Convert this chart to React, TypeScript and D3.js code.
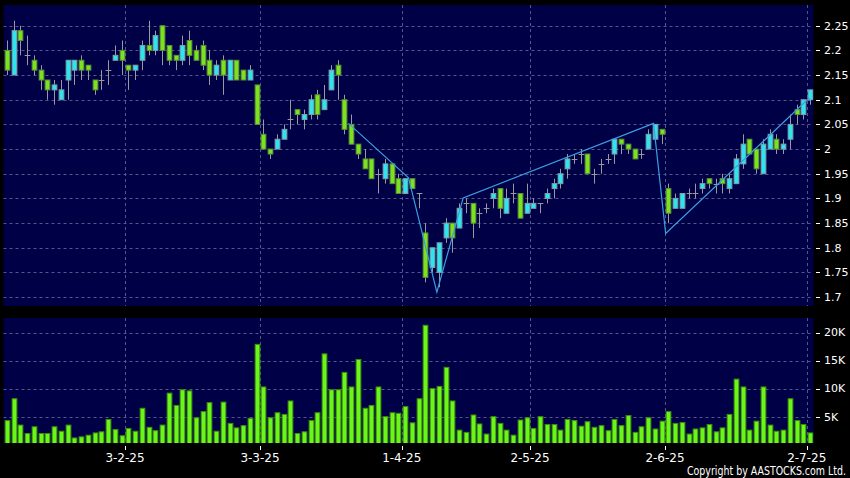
import React from 'react';
import * as d3 from 'd3';

// ---- data ----
const opens = [
  2.20, 2.15, 2.24, 2.19, 2.18, 2.16, 2.14, 2.12, 2.10, 2.14,
  2.16, 2.18, 2.17, 2.14, 2.14, 2.16, 2.18, 2.20, 2.17, 2.16,
  2.18, 2.21, 2.20, 2.25, 2.21, 2.19, 2.18, 2.22, 2.20, 2.21,
  2.18, 2.15, 2.18, 2.14, 2.18, 2.16, 2.14, 2.13, 2.03, 2.00,
  2.00, 2.02, 2.06, 2.08, 2.06, 2.07, 2.11, 2.08, 2.12, 2.17,
  2.10, 2.05, 2.01, 1.98, 1.98, 1.95, 1.94, 1.97, 1.94, 1.91,
  1.94, 1.91, 1.83, 1.76, 1.75, 1.82, 1.85, 1.84, 1.89, 1.89,
  1.87, 1.88, 1.90, 1.92, 1.87, 1.91, 1.91, 1.87, 1.88, 1.89,
  1.90, 1.92, 1.93, 1.96, 1.98, 1.99, 1.99, 1.95, 1.97, 1.98,
  1.99, 2.02, 2.01, 2.00, 1.99, 2.00, 2.02, 2.04, 1.92, 1.88,
  1.88, 1.91, 1.91, 1.92, 1.94, 1.93, 1.94, 1.92, 1.93, 1.97,
  2.02, 2.00, 1.95, 2.00, 2.02, 2.00, 2.02, 2.08, 2.07, 2.10,
];
const highs = [
  2.22, 2.26, 2.25, 2.23, 2.19, 2.17, 2.14, 2.14, 2.14, 2.18,
  2.18, 2.19, 2.17, 2.14, 2.16, 2.18, 2.21, 2.22, 2.17, 2.17,
  2.22, 2.26, 2.24, 2.25, 2.21, 2.19, 2.23, 2.24, 2.21, 2.22,
  2.20, 2.18, 2.19, 2.18, 2.18, 2.16, 2.17, 2.13, 2.06, 2.00,
  2.03, 2.05, 2.10, 2.08, 2.08, 2.11, 2.12, 2.13, 2.17, 2.18,
  2.11, 2.07, 2.01, 2.00, 1.98, 1.96, 1.98, 1.97, 1.95, 1.94,
  1.94, 1.91, 1.85, 1.80, 1.81, 1.86, 1.85, 1.89, 1.90, 1.89,
  1.88, 1.89, 1.92, 1.92, 1.92, 1.93, 1.91, 1.93, 1.90, 1.89,
  1.92, 1.94, 1.96, 1.99, 1.99, 2.00, 1.99, 1.96, 1.98, 1.99,
  2.02, 2.02, 2.01, 2.00, 2.00, 2.04, 2.05, 2.04, 1.93, 1.91,
  1.91, 1.92, 1.93, 1.94, 1.94, 1.94, 1.95, 1.95, 1.99, 2.03,
  2.02, 2.00, 2.02, 2.04, 2.03, 2.02, 2.07, 2.09, 2.10, 2.12,
];
const lows = [
  2.15, 2.15, 2.19, 2.17, 2.15, 2.12, 2.10, 2.09, 2.10, 2.10,
  2.13, 2.14, 2.14, 2.11, 2.12, 2.13, 2.18, 2.15, 2.12, 2.14,
  2.16, 2.19, 2.19, 2.17, 2.17, 2.16, 2.17, 2.17, 2.18, 2.16,
  2.13, 2.14, 2.11, 2.14, 2.14, 2.14, 2.14, 2.05, 2.00, 1.98,
  2.00, 2.02, 2.04, 2.05, 2.04, 2.06, 2.06, 2.08, 2.12, 2.10,
  2.03, 2.01, 1.98, 1.96, 1.94, 1.91, 1.93, 1.93, 1.91, 1.91,
  1.92, 1.88, 1.73, 1.75, 1.72, 1.81, 1.79, 1.84, 1.87, 1.82,
  1.84, 1.87, 1.88, 1.86, 1.87, 1.89, 1.86, 1.87, 1.88, 1.87,
  1.89, 1.90, 1.92, 1.94, 1.97, 1.97, 1.95, 1.93, 1.95, 1.97,
  1.97, 1.99, 1.99, 1.98, 1.98, 2.00, 2.02, 2.01, 1.85, 1.88,
  1.88, 1.90, 1.90, 1.91, 1.92, 1.91, 1.91, 1.91, 1.93, 1.96,
  1.99, 1.95, 1.95, 2.00, 1.99, 1.99, 2.00, 2.05, 2.06, 2.09,
];
const closes = [
  2.16, 2.24, 2.22, 2.19, 2.16, 2.14, 2.12, 2.13, 2.12, 2.18,
  2.18, 2.16, 2.16, 2.12, 2.14, 2.16, 2.19, 2.18, 2.16, 2.17,
  2.21, 2.20, 2.23, 2.20, 2.18, 2.18, 2.21, 2.19, 2.18, 2.17,
  2.15, 2.17, 2.15, 2.18, 2.14, 2.14, 2.16, 2.05, 2.00, 1.99,
  2.02, 2.04, 2.06, 2.07, 2.07, 2.10, 2.07, 2.10, 2.16, 2.15,
  2.04, 2.01, 1.99, 1.96, 1.94, 1.95, 1.97, 1.93, 1.91, 1.94,
  1.92, 1.91, 1.74, 1.80, 1.81, 1.85, 1.82, 1.88, 1.89, 1.85,
  1.87, 1.88, 1.91, 1.88, 1.90, 1.91, 1.86, 1.89, 1.89, 1.89,
  1.91, 1.93, 1.95, 1.98, 1.98, 1.99, 1.95, 1.95, 1.97, 1.98,
  2.02, 2.01, 2.00, 1.98, 1.99, 2.03, 2.05, 2.03, 1.87, 1.90,
  1.91, 1.91, 1.91, 1.93, 1.93, 1.93, 1.93, 1.94, 1.98, 2.01,
  1.99, 1.96, 2.01, 2.03, 2.00, 2.01, 2.05, 2.07, 2.10, 2.12,
];
const volumes = [
  4300, 8200, 3500, 2000, 3200, 2000, 2000, 3200, 2400, 3500,
  1200, 1400, 1700, 2100, 2300, 4500, 2700, 1600, 2900, 2400,
  6500, 3100, 2500, 3500, 9200, 7000, 9800, 9600, 4800, 5900,
  7500, 2400, 7600, 3800, 3000, 3400, 4700, 17900, 10300, 4800,
  5700, 5400, 7800, 2000, 2300, 4300, 5700, 16200, 9800, 9800,
  12900, 10300, 15200, 6500, 7000, 10300, 5000, 5700, 5600, 6800,
  3900, 8200, 21300, 10000, 10400, 13800, 7800, 2600, 2200, 5300,
  3700, 1900, 5000, 3800, 2600, 1700, 4400, 4800, 2900, 5000,
  3600, 3600, 2600, 4500, 4300, 3300, 4100, 3100, 3400, 2500,
  4500, 3400, 5200, 2200, 3200, 4800, 2800, 4200, 5900, 3800,
  3950, 1900, 2800, 3000, 3600, 2300, 3000, 5400, 11700, 10300,
  2600, 4200, 10300, 3500, 2400, 2600, 8200, 4300, 3600, 2100,
];
const priceTicks = [1.7, 1.75, 1.8, 1.85, 1.9, 1.95, 2.0, 2.05, 2.1, 2.15, 2.2, 2.25];
const volumeTicks = [5000, 10000, 15000, 20000];
const dateLabels = ['3-2-25', '3-3-25', '1-4-25', '2-5-25', '2-6-25', '2-7-25'];
const dateIndex = [18, 38, 59, 78, 98, 119];
const zigzagIdx = [50.6, 59.5, 63.7, 67.6, 95.8, 97.6, 118.9];
const zigzagPrice = [2.052, 1.942, 1.71, 1.901, 2.052, 1.829, 2.104];

// ---- layout ----
const W = 850;
const H = 478;
const PL = 3.5;
const PR = 813.5;
const PT = 5;
const PB = 306;
const VT = 318;
const VB = 443;

const BG = '#000000';
const PANEL = '#000046';
const GRID = '#55558c';
const UP = '#2ce5f0';
const UP_STROKE = '#7f9ea8';
const DOWN = '#7de21e';
const DOWN_STROKE = '#5a8f3a';
const WICK = '#9a9a9a';
const VOL = '#6cf51a';
const VOL_STROKE = '#3c8f0a';
const ZIG = '#3a9ee0';
const FONT = '"DejaVu Sans", Verdana, sans-serif';

export default function App() {
  const n = opens.length;
  const x = d3.scaleLinear().domain([-0.5, n - 0.5]).range([PL, PR]);
  const y = d3.scaleLinear().domain([1.682, 2.292]).range([PB, PT]);
  const yv = d3.scaleLinear().domain([0, 22600]).range([444.7, VT]);
  const step = x(1) - x(0);
  const bw = step - 2;

  const zig = d3
    .line<number>()
    .x((_, i) => x(zigzagIdx[i]))
    .y((p) => y(p))(zigzagPrice);

  const fmt = (v: number) => String(+v.toFixed(2));

  return (
    <svg
      width={W}
      height={H}
      style={{ position: 'absolute', left: 0, top: 0, display: 'block' }}
      fontFamily={FONT}
    >
      <defs>
        <clipPath id="pclip">
          <rect x={PL} y={PT} width={PR - PL} height={PB - PT} />
        </clipPath>
        <clipPath id="vclip">
          <rect x={PL} y={VT} width={PR - PL} height={VB - VT} />
        </clipPath>
      </defs>
      <rect x={0} y={0} width={W} height={H} fill={BG} />

      {/* price panel */}
      <rect x={PL} y={PT} width={PR - PL} height={PB - PT} fill={PANEL} />
      {priceTicks.map((p) => (
        <line
          key={'pg' + p}
          x1={PL}
          x2={PR}
          y1={Math.round(y(p)) + 0.5}
          y2={Math.round(y(p)) + 0.5}
          stroke={GRID}
          strokeDasharray="3,3"
        />
      ))}
      {dateIndex.map((d) => (
        <line
          key={'pvg' + d}
          x1={Math.round(x(d - 0.5)) + 0.5}
          x2={Math.round(x(d - 0.5)) + 0.5}
          y1={PT}
          y2={PB}
          stroke={GRID}
          strokeDasharray="3,3"
        />
      ))}
      <g clipPath="url(#pclip)">
        {opens.map((o, i) => {
          const c = closes[i];
          const cx = Math.round(x(i)) + 0.5;
          const doji = Math.abs(o - c) < 1e-9;
          const up = c > o;
          const top = y(Math.max(o, c));
          const bot = y(Math.min(o, c));
          return (
            <g key={'c' + i}>
              <line x1={cx} x2={cx} y1={y(highs[i])} y2={y(lows[i])} stroke={WICK} strokeWidth={1} />
              {doji ? (
                <line
                  x1={cx - bw / 2 - 0.5}
                  x2={cx + bw / 2 + 0.5}
                  y1={Math.round(y(o)) + 0.5}
                  y2={Math.round(y(o)) + 0.5}
                  stroke={WICK}
                  strokeWidth={1}
                />
              ) : (
                <rect
                  x={cx - bw / 2}
                  y={top}
                  width={bw}
                  height={Math.max(1, bot - top)}
                  fill={up ? UP : DOWN}
                  stroke={up ? UP_STROKE : DOWN_STROKE}
                  strokeWidth={1}
                />
              )}
            </g>
          );
        })}
        <path d={zig || ''} fill="none" stroke={ZIG} strokeWidth={1.2} />
      </g>
      {priceTicks.map((p) => (
        <g key={'pl' + p}>
          <line x1={816} x2={820} y1={Math.round(y(p)) + 0.5} y2={Math.round(y(p)) + 0.5} stroke="#ffffff" />
          <text x={824} y={y(p)} dy="0.35em" fill="#ffffff" fontSize={11}>
            {fmt(p)}
          </text>
        </g>
      ))}

      {/* volume panel */}
      <rect x={PL} y={VT} width={PR - PL} height={VB - VT} fill={PANEL} />
      {volumeTicks.map((v) => (
        <line
          key={'vg' + v}
          x1={PL}
          x2={PR}
          y1={Math.round(yv(v)) + 0.5}
          y2={Math.round(yv(v)) + 0.5}
          stroke={GRID}
          strokeDasharray="3,3"
        />
      ))}
      {dateIndex.map((d) => (
        <line
          key={'vvg' + d}
          x1={Math.round(x(d - 0.5)) + 0.5}
          x2={Math.round(x(d - 0.5)) + 0.5}
          y1={VT}
          y2={VB}
          stroke={GRID}
          strokeDasharray="3,3"
        />
      ))}
      <g clipPath="url(#vclip)">
        {volumes.map((v, i) => {
          const cx = Math.round(x(i)) + 0.5;
          return (
            <rect
              key={'v' + i}
              x={cx - bw / 2}
              y={yv(v)}
              width={bw}
              height={VB + 2 - yv(v)}
              fill={VOL}
              stroke={VOL_STROKE}
              strokeWidth={1}
            />
          );
        })}
      </g>
      {volumeTicks.map((v) => (
        <g key={'vl' + v}>
          <line x1={816} x2={820} y1={Math.round(yv(v)) + 0.5} y2={Math.round(yv(v)) + 0.5} stroke="#ffffff" />
          <text x={824} y={yv(v)} dy="0.35em" fill="#ffffff" fontSize={11}>
            {v / 1000 + 'K'}
          </text>
        </g>
      ))}

      {/* date axis */}
      {dateIndex.map((d, k) => (
        <g key={'dl' + d}>
          <line
            x1={Math.round(x(d - 0.5)) + 0.5}
            x2={Math.round(x(d - 0.5)) + 0.5}
            y1={446}
            y2={450}
            stroke="#ffffff"
          />
          <text x={x(d - 0.5)} y={462} textAnchor="middle" fill="#ffffff" fontSize={12}>
            {dateLabels[k]}
          </text>
        </g>
      ))}
      <text
        x={846}
        y={474.5}
        textAnchor="end"
        fill="#ffffff"
        fontSize={11.5}
        textLength={159}
        lengthAdjust="spacingAndGlyphs"
      >
        Copyright by AASTOCKS.com Ltd.
      </text>
    </svg>
  );
}
